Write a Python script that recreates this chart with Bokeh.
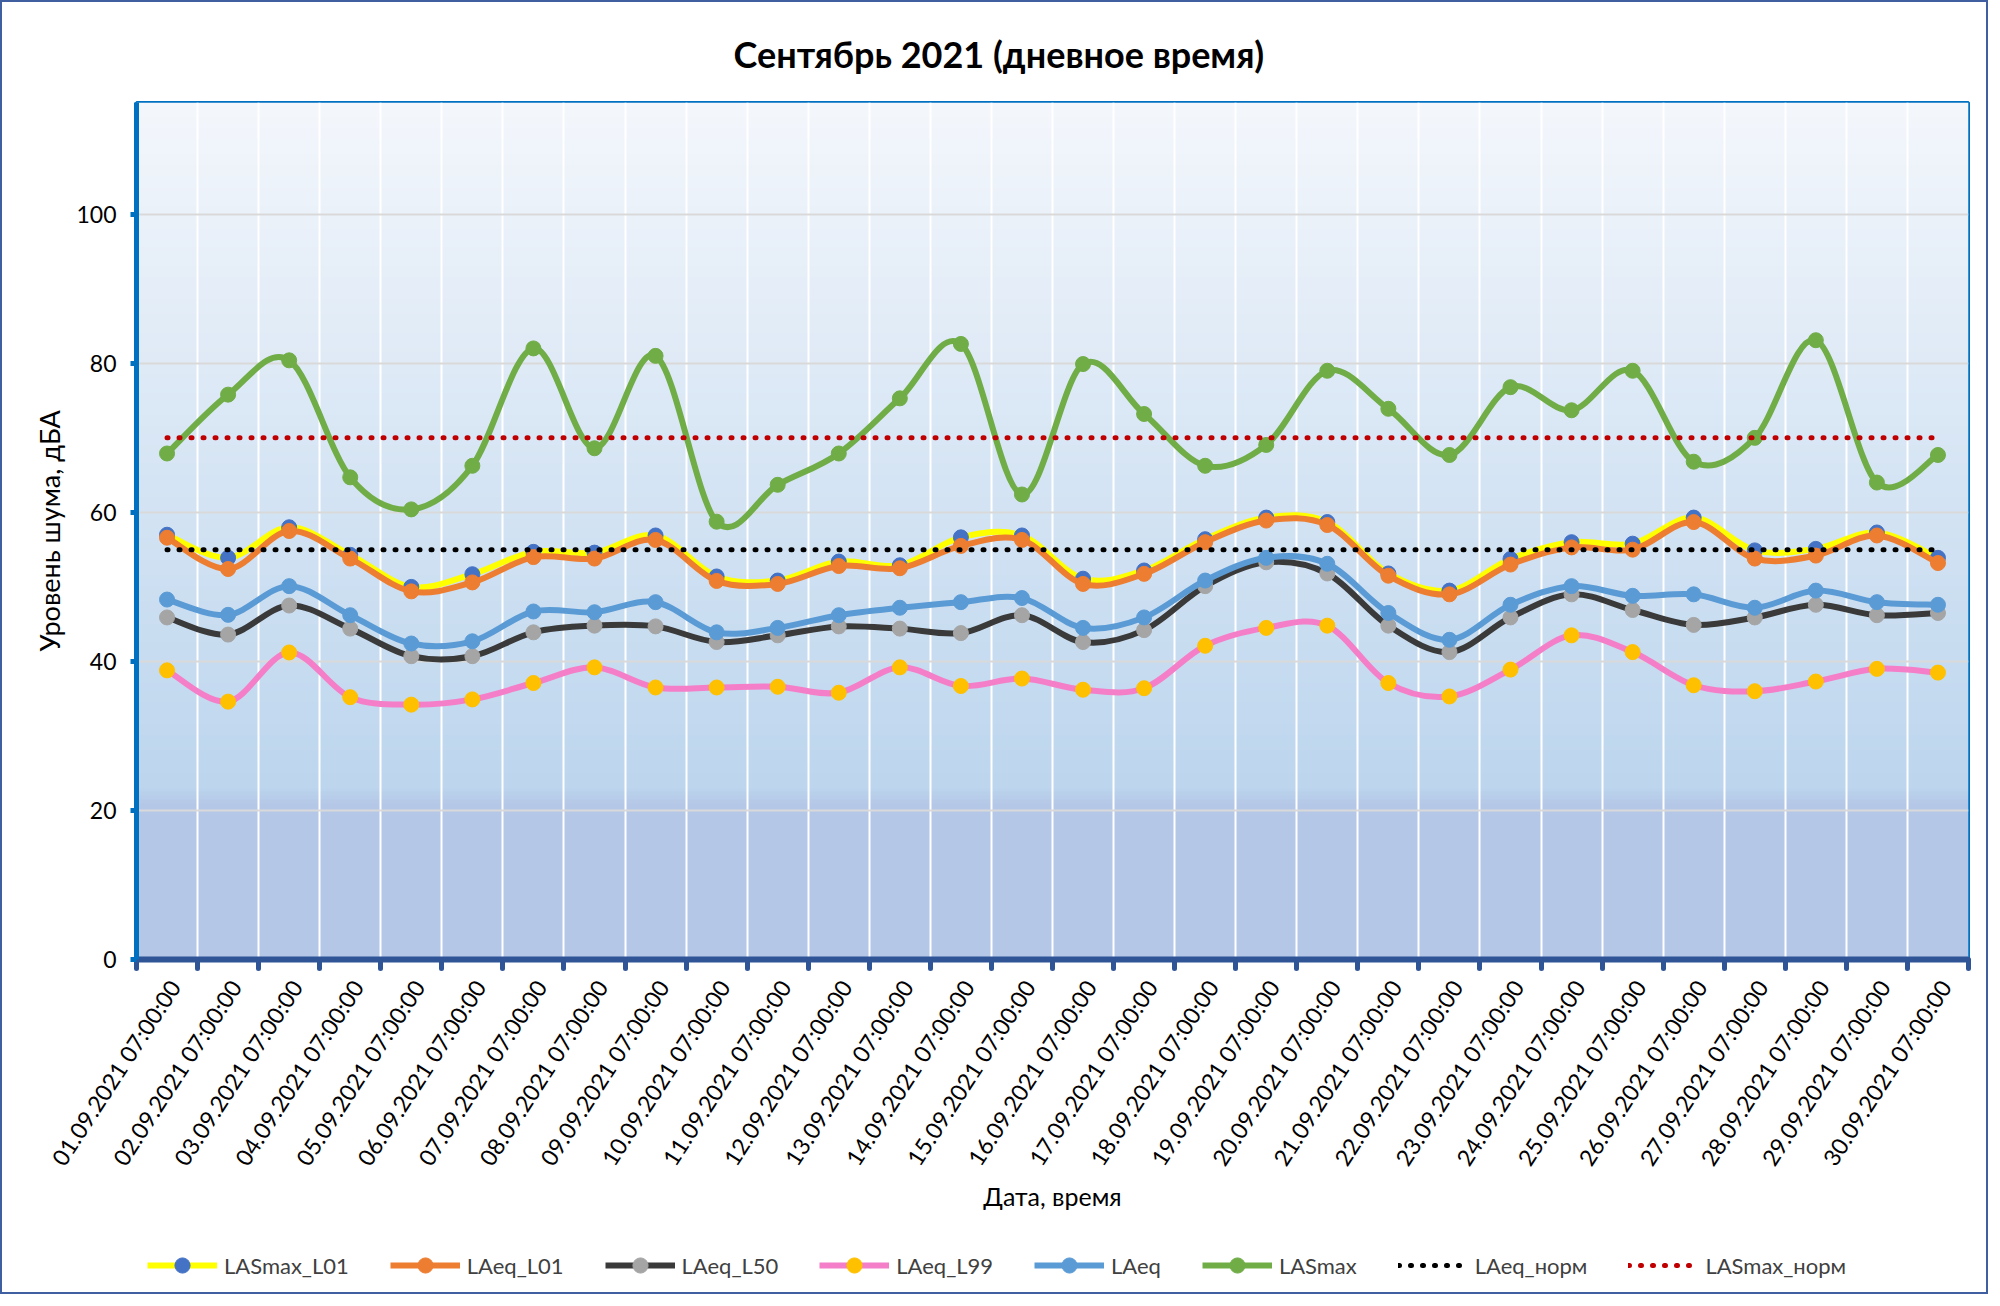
import numpy as np
from bokeh.plotting import figure
from bokeh.layouts import column
from bokeh.models import Range1d, FixedTicker, Legend, LegendItem
from bokeh.embed import file_html
from bokeh.resources import INLINE

# ---------------- data ----------------
date_labels = [
    "01.09.2021 07:00:00", "02.09.2021 07:00:00", "03.09.2021 07:00:00",
    "04.09.2021 07:00:00", "05.09.2021 07:00:00", "06.09.2021 07:00:00",
    "07.09.2021 07:00:00", "08.09.2021 07:00:00", "09.09.2021 07:00:00",
    "10.09.2021 07:00:00", "11.09.2021 07:00:00", "12.09.2021 07:00:00",
    "13.09.2021 07:00:00", "14.09.2021 07:00:00", "15.09.2021 07:00:00",
    "16.09.2021 07:00:00", "17.09.2021 07:00:00", "18.09.2021 07:00:00",
    "19.09.2021 07:00:00", "20.09.2021 07:00:00", "21.09.2021 07:00:00",
    "22.09.2021 07:00:00", "23.09.2021 07:00:00", "24.09.2021 07:00:00",
    "25.09.2021 07:00:00", "26.09.2021 07:00:00", "27.09.2021 07:00:00",
    "28.09.2021 07:00:00", "29.09.2021 07:00:00", "30.09.2021 07:00:00",
]

LASmax_L01 = [57.0, 53.9, 58.0, 54.3, 50.0, 51.7, 54.7, 54.6, 56.9, 51.4,
              50.85, 53.4, 52.9, 56.65, 56.9, 51.1, 52.2, 56.4, 59.3, 58.7,
              51.8, 49.5, 53.75, 56.0, 55.8, 59.3, 54.9, 55.1, 57.3, 53.9]
LAeq_L01 = [56.6, 52.4, 57.5, 53.8, 49.4, 50.6, 54.0, 53.8, 56.3, 50.8,
            50.4, 52.8, 52.5, 55.5, 56.3, 50.4, 51.75, 56.0, 58.9, 58.3,
            51.5, 49.0, 53.0, 55.3, 55.0, 58.7, 53.8, 54.2, 56.9, 53.2]
LAeq_L50 = [45.9, 43.6, 47.5, 44.4, 40.7, 40.7, 43.9, 44.8, 44.7, 42.6,
            43.5, 44.7, 44.4, 43.8, 46.2, 42.6, 44.2, 50.1, 53.3, 51.8,
            44.8, 41.25, 45.9, 49.0, 46.9, 44.9, 45.9, 47.6, 46.2, 46.5]
LAeq_L99 = [38.8, 34.6, 41.2, 35.2, 34.2, 34.9, 37.1, 39.2, 36.5, 36.5,
            36.6, 35.8, 39.2, 36.7, 37.7, 36.2, 36.4, 42.1, 44.5, 44.8,
            37.1, 35.3, 38.9, 43.5, 41.25, 36.8, 36.0, 37.3, 39.0, 38.5]
LAeq = [48.3, 46.25, 50.1, 46.2, 42.4, 42.7, 46.7, 46.6, 47.95, 43.9,
        44.5, 46.2, 47.2, 47.95, 48.5, 44.5, 45.9, 50.85, 53.9, 53.1,
        46.5, 42.9, 47.6, 50.1, 48.8, 49.0, 47.2, 49.5, 47.95, 47.6]
LASmax = [67.9, 75.8, 80.4, 64.7, 60.4, 66.25, 82.0, 68.6, 81.0, 58.75,
          63.7, 67.9, 75.3, 82.6, 62.4, 79.9, 73.2, 66.25, 69.05, 79.0,
          73.9, 67.7, 76.8, 73.7, 79.0, 66.8, 70.0, 83.1, 64.0, 67.7]
LAeq_norm = [55, 55, 55, 55, 55, 55, 55, 55, 55, 55,
             55, 55, 55, 55, 55, 55, 55, 55, 55, 55,
             55, 55, 55, 55, 55, 55, 55, 55, 55, 55]
LASmax_norm = [70, 70, 70, 70, 70, 70, 70, 70, 70, 70,
               70, 70, 70, 70, 70, 70, 70, 70, 70, 70,
               70, 70, 70, 70, 70, 70, 70, 70, 70, 70]

y_ticks = [0, 20, 40, 60, 80, 100]
Y_MIN, Y_MAX = 0, 115

TITLE = "Сентябрь 2021 (дневное время)"
X_TITLE = "Дата, время"
Y_TITLE = "Уровень шума, дБА"

FONT = "Lato"

# ---------------- helpers ----------------
n = len(date_labels)
xs = np.arange(n, dtype=float)
X_MIN, X_MAX = -0.5, n - 0.5
LABEL_SHIFT = 0.12   # rotated labels sit slightly right of the category centre


def bezier_parts(x, y):
    """Catmull-Rom style smoothing (like Excel's smoothed line) as cubic Bezier segments."""
    x = np.asarray(x, float)
    y = np.asarray(y, float)
    m = len(x)
    xp = np.concatenate([[x[0]], x, [x[-1]]])
    yp = np.concatenate([[y[0]], y, [y[-1]]])
    cx0 = x[:-1] + (xp[2:m + 1] - xp[0:m - 1]) / 6.0
    cy0 = y[:-1] + (yp[2:m + 1] - yp[0:m - 1]) / 6.0
    cx1 = x[1:] - (xp[3:m + 2] - xp[1:m]) / 6.0
    cy1 = y[1:] - (yp[3:m + 2] - yp[1:m]) / 6.0
    return dict(x0=x[:-1], y0=y[:-1], x1=x[1:], y1=y[1:],
                cx0=cx0, cy0=cy0, cx1=cx1, cy1=cy1)


W = 1984
H_MAIN = 1214
H_LEG = 76

# ---------------- main figure ----------------
p = figure(width=W, height=H_MAIN,
           x_range=Range1d(X_MIN, X_MAX), y_range=Range1d(Y_MIN, Y_MAX),
           output_backend="svg", toolbar_location=None,
           min_border_left=134, min_border_right=18,
           min_border_top=99, min_border_bottom=H_MAIN - 957)

p.background_fill_color = "#B4C7E7"
p.border_fill_color = "white"
p.outline_line_color = "#0070C0"
p.outline_line_width = 3

# gradient background of the plot area
rows = 230
vals = np.linspace(Y_MIN, Y_MAX, rows)
c_bot = np.array([180, 199, 231], float)
c_mid = np.array([189, 214, 238], float)
c_top = np.array([244, 247, 252], float)
cols = np.zeros((rows, 3))
for k, v in enumerate(vals):
    if v <= 20.5:
        cols[k] = c_bot
    elif v <= 23:
        t = (v - 20.5) / 2.5
        cols[k] = c_bot + (c_mid - c_bot) * t
    else:
        t = (v - 23) / (Y_MAX - 23)
        cols[k] = c_mid + (c_top - c_mid) * t
img = np.empty((rows, 1), dtype=np.uint32)
view = img.view(dtype=np.uint8).reshape((rows, 1, 4))
view[:, 0, 0] = cols[:, 0]
view[:, 0, 1] = cols[:, 1]
view[:, 0, 2] = cols[:, 2]
view[:, 0, 3] = 255
p.image_rgba(image=[img], x=X_MIN, y=Y_MIN, dw=X_MAX - X_MIN, dh=Y_MAX - Y_MIN,
             level="image")

# title
p.title.text = TITLE
p.title.align = "left"
p.title.offset = 597
p.title.text_font = FONT
p.title.text_font_size = "36px"
p.title.text_font_style = "bold"
p.title.text_color = "black"
p.title.standoff = 54

# grids
p.xgrid.ticker = FixedTicker(ticks=[i + 0.5 for i in range(n - 1)])
p.xgrid.grid_line_color = "white"
p.xgrid.grid_line_width = 2
p.ygrid.ticker = FixedTicker(ticks=y_ticks[1:])
p.ygrid.grid_line_color = "#D9D9D9"
p.ygrid.grid_line_width = 2

# y axis
p.yaxis.ticker = FixedTicker(ticks=y_ticks)
p.yaxis.axis_line_color = "#0070C0"
p.yaxis.axis_line_width = 5
p.yaxis.major_tick_line_color = "#0070C0"
p.yaxis.major_tick_line_width = 5
p.yaxis.major_tick_out = 6
p.yaxis.major_tick_in = 0
p.yaxis.minor_tick_line_color = None
p.yaxis.major_label_text_font = FONT
p.yaxis.major_label_text_font_size = "23px"
p.yaxis.major_label_text_color = "black"
p.yaxis.major_label_standoff = 14
p.yaxis.axis_label = Y_TITLE
p.yaxis.axis_label_text_font = FONT
p.yaxis.axis_label_text_font_size = "27px"
p.yaxis.axis_label_text_font_style = "normal"
p.yaxis.axis_label_text_color = "black"
p.yaxis.axis_label_standoff = 7

# x axis
label_ticks = [i + LABEL_SHIFT for i in range(n)]
p.xaxis.ticker = FixedTicker(ticks=label_ticks,
                             minor_ticks=[i - 0.5 for i in range(n + 1)])
p.xaxis.major_label_overrides = {t: lab for t, lab in zip(label_ticks, date_labels)}
p.xaxis.axis_line_color = "#2F5597"
p.xaxis.axis_line_width = 6
p.xaxis.major_tick_line_color = None
p.xaxis.major_tick_out = 0
p.xaxis.major_tick_in = 0
p.xaxis.minor_tick_line_color = "#2F5597"
p.xaxis.minor_tick_line_width = 5
p.xaxis.minor_tick_out = 9
p.xaxis.minor_tick_in = 0
p.xaxis.minor_tick_line_cap = "round"
p.xaxis.major_label_orientation = np.deg2rad(57)
p.xaxis.major_label_text_font = FONT
p.xaxis.major_label_text_font_size = "23px"
p.xaxis.major_label_text_color = "black"
p.xaxis.major_label_standoff = 14
p.xaxis.axis_label = X_TITLE
p.xaxis.axis_label_text_font = FONT
p.xaxis.axis_label_text_font_size = "25px"
p.xaxis.axis_label_text_font_style = "normal"
p.xaxis.axis_label_text_color = "black"
p.xaxis.axis_label_standoff = 0

# ---------------- series ----------------
series = [
    ("LASmax_L01", LASmax_L01, "#FFFF00", "#4472C4"),
    ("LAeq_L01", LAeq_L01, "#ED7D31", "#ED7D31"),
    ("LAeq_L50", LAeq_L50, "#3A3A3A", "#A5A5A5"),
    ("LAeq_L99", LAeq_L99, "#F47FC8", "#FFC000"),
    ("LAeq", LAeq, "#5B9BD5", "#5B9BD5"),
    ("LASmax", LASmax, "#70AD47", "#70AD47"),
]
norms = [
    ("LAeq_норм", LAeq_norm, "black"),
    ("LASmax_норм", LASmax_norm, "#C00000"),
]

for name, vals_s, lcol, mcol in series:
    parts = bezier_parts(xs, vals_s)
    p.bezier(line_color=lcol, line_width=6, line_cap="round", **parts)
    p.scatter(xs, vals_s, size=15, fill_color=mcol, line_color=mcol, line_width=1)

for name, vals_s, col in norms:
    p.line(xs, vals_s, line_color=col, line_width=5, line_dash="1 11",
           line_cap="round")

# ---------------- legend strip (legend kept inside its own frame) ----------------
lg = figure(width=W, height=H_LEG, x_range=Range1d(X_MIN, X_MAX),
            y_range=Range1d(-20, -10), output_backend="svg",
            toolbar_location=None, min_border=0,
            x_axis_type=None, y_axis_type=None)
lg.outline_line_color = None
lg.background_fill_color = "white"
lg.border_fill_color = "white"
lg.grid.visible = False

items = []
for name, vals_s, lcol, mcol in series:
    r_line = lg.line(xs, vals_s, line_color=lcol, line_width=6)
    r_mark = lg.scatter(xs, vals_s, size=15, fill_color=mcol, line_color=mcol,
                        line_width=1)
    items.append(LegendItem(label=name, renderers=[r_line, r_mark]))
for name, vals_s, col in norms:
    r = lg.line(xs, vals_s, line_color=col, line_width=5, line_dash="1 11",
                line_cap="round")
    items.append(LegendItem(label=name, renderers=[r]))

legend = Legend(items=items, orientation="horizontal", location=(11, 8),
                spacing=41, glyph_width=70, glyph_height=38, label_standoff=7,
                label_text_font=FONT, label_text_font_size="22px",
                label_text_color="#404040", border_line_color=None,
                background_fill_alpha=0, padding=0, margin=0)
lg.add_layout(legend, "center")

layout = column(p, lg, spacing=0, styles={"border": "2px solid #3F5FA0"})

open("out.html", "w").write(file_html(layout, INLINE))
